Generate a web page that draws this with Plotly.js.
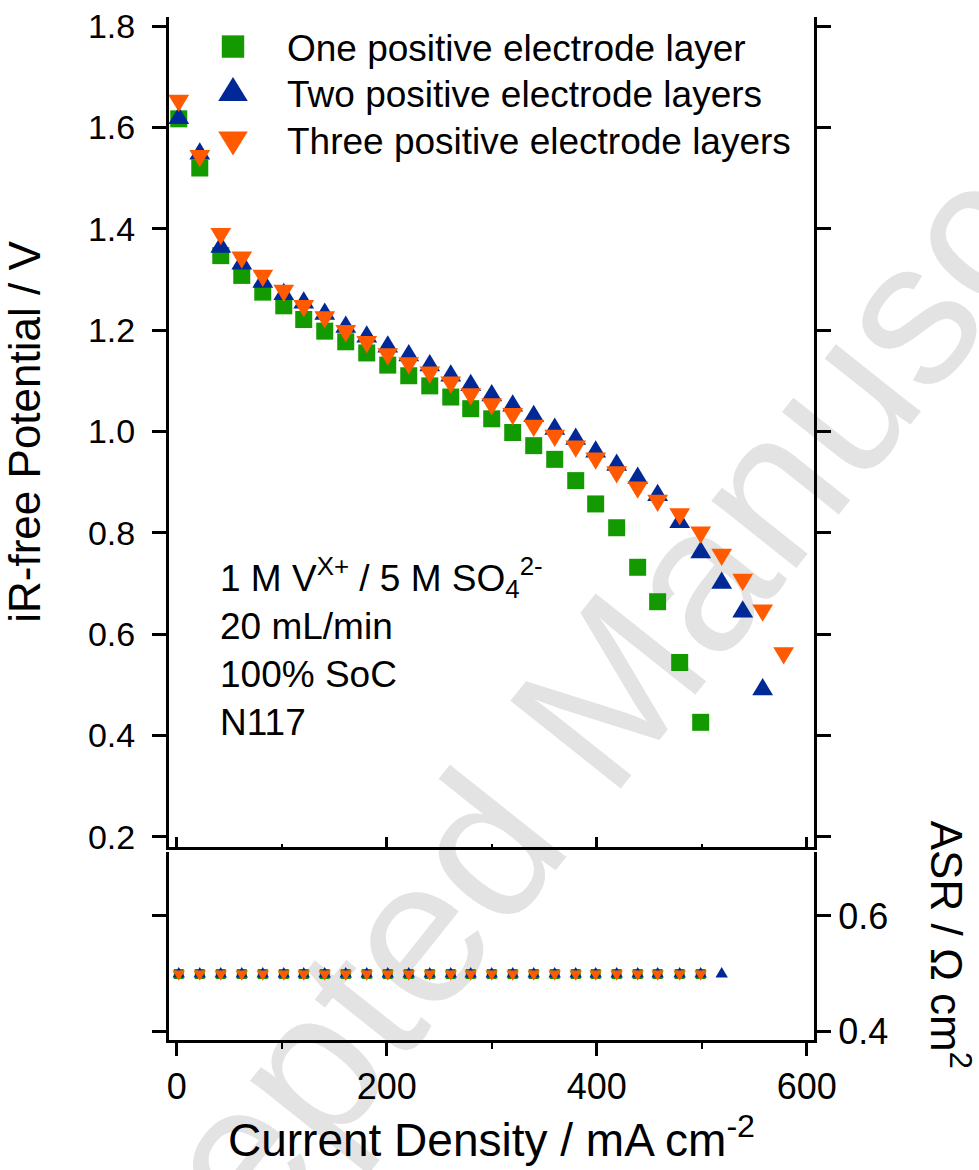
<!DOCTYPE html>
<html>
<head>
<meta charset="utf-8">
<script src="https://cdn.plot.ly/plotly-3.0.1.min.js"></script>
<style>
html,body{margin:0;padding:0;background:#fff;}
#wrap{position:relative;width:979px;height:1170px;overflow:hidden;background:#fff;}
#wm{position:absolute;left:583px;top:722px;font-family:'Liberation Sans',Arial,sans-serif;font-size:205px;color:#e3e3e3;white-space:nowrap;transform:translate(-50%,-50%) rotate(-51.5deg);}
#chart{position:absolute;left:0;top:0;width:979px;height:1170px;}
</style>
</head>
<body>
<div id="wrap">
<div id="wm">Accepted Manuscript</div>
<div id="chart"></div>
</div>
<script>
// ---- data ----
const seriesNames = ['One positive electrode layer', 'Two positive electrode layers', 'Three positive electrode layers'];

const oneLayerCD = [2, 22, 42, 62, 82, 102, 121, 141, 161, 181, 201, 221, 241, 261, 280, 300, 320, 340, 360, 380, 399, 419, 439, 458, 479, 499];
const oneLayerV  = [1.617, 1.520, 1.347, 1.308, 1.275, 1.248, 1.221, 1.198, 1.177, 1.155, 1.131, 1.110, 1.090, 1.068, 1.045, 1.025, 0.998, 0.972, 0.945, 0.903, 0.857, 0.810, 0.732, 0.664, 0.544, 0.426];

const twoLayerCD = [2, 22, 42, 62, 82, 102, 121, 141, 161, 181, 201, 221, 241, 261, 280, 300, 320, 340, 360, 380, 399, 419, 439, 458, 479, 499, 519, 539, 558];
const twoLayerV  = [1.618, 1.548, 1.364, 1.331, 1.295, 1.271, 1.254, 1.232, 1.206, 1.187, 1.167, 1.150, 1.130, 1.110, 1.091, 1.071, 1.051, 1.030, 1.005, 0.985, 0.960, 0.934, 0.908, 0.874, 0.821, 0.761, 0.701, 0.644, 0.491];

const threeLayerCD = [2, 22, 42, 62, 82, 102, 121, 141, 161, 181, 201, 221, 241, 261, 280, 300, 320, 340, 360, 380, 399, 419, 439, 458, 479, 499, 519, 539, 558, 578];
const threeLayerV  = [1.653, 1.544, 1.390, 1.344, 1.308, 1.278, 1.248, 1.226, 1.199, 1.177, 1.153, 1.135, 1.117, 1.097, 1.074, 1.054, 1.035, 1.012, 0.992, 0.971, 0.947, 0.920, 0.890, 0.864, 0.837, 0.801, 0.757, 0.708, 0.647, 0.563];

// ASR (lower panel)
const oneLayerAsrCD = [2, 22, 42, 62, 82, 102, 121, 141, 161, 181, 201, 221, 241, 261, 280, 300, 320, 340, 360, 380, 399, 419, 439, 458, 479, 499];
const oneLayerASR   = [0.50, 0.50, 0.50, 0.50, 0.50, 0.50, 0.50, 0.50, 0.50, 0.50, 0.50, 0.50, 0.50, 0.50, 0.50, 0.50, 0.50, 0.50, 0.50, 0.50, 0.50, 0.50, 0.50, 0.50, 0.50, 0.50];
const twoLayerAsrCD = [2, 22, 42, 62, 82, 102, 121, 141, 161, 181, 201, 221, 241, 261, 280, 300, 320, 340, 360, 380, 399, 419, 439, 458, 479, 499, 519];
const twoLayerASR   = [0.50, 0.50, 0.50, 0.50, 0.50, 0.50, 0.50, 0.50, 0.50, 0.50, 0.50, 0.50, 0.50, 0.50, 0.50, 0.50, 0.50, 0.50, 0.50, 0.50, 0.50, 0.50, 0.50, 0.50, 0.50, 0.50, 0.50];
const threeLayerAsrCD = [2, 22, 42, 62, 82, 102, 121, 141, 161, 181, 201, 221, 241, 261, 280, 300, 320, 340, 360, 380, 399, 419, 439, 458, 479, 499];
const threeLayerASR   = [0.50, 0.50, 0.50, 0.50, 0.50, 0.50, 0.50, 0.50, 0.50, 0.50, 0.50, 0.50, 0.50, 0.50, 0.50, 0.50, 0.50, 0.50, 0.50, 0.50, 0.50, 0.50, 0.50, 0.50, 0.50, 0.50];

const potentialTicks = [0.2, 0.4, 0.6, 0.8, 1.0, 1.2, 1.4, 1.6, 1.8];
const asrTicks = [0.4, 0.6];
const cdTicks = [0, 200, 400, 600];

const conditionsText = '1 M V<sup>X+</sup> / 5 M SO<sub>4</sub><sup>2-</sup><br>20 mL/min<br>100% SoC<br>N117';

// ---- styling ----
const FONT = 'Liberation Sans, Arial, sans-serif';
const GREEN = '#139a00', BLUE = '#002896', ORANGE = '#ff5a00';

const data = [
  {x: oneLayerCD, y: oneLayerV, name: seriesNames[0], type: 'scatter', mode: 'markers',
   marker: {symbol: 'square', size: 17, color: GREEN}, xaxis: 'x', yaxis: 'y'},
  {x: twoLayerCD, y: twoLayerV, name: seriesNames[1], type: 'scatter', mode: 'markers',
   marker: {symbol: 'triangle-up', size: 20, color: BLUE}, xaxis: 'x', yaxis: 'y'},
  {x: threeLayerCD, y: threeLayerV, name: seriesNames[2], type: 'scatter', mode: 'markers',
   marker: {symbol: 'triangle-down', size: 20, color: ORANGE}, xaxis: 'x', yaxis: 'y'},
  {x: oneLayerAsrCD, y: oneLayerASR, name: seriesNames[0], showlegend: false, type: 'scatter', mode: 'markers',
   marker: {symbol: 'square', size: 10, color: GREEN}, xaxis: 'x2', yaxis: 'y2'},
  {x: twoLayerAsrCD, y: twoLayerASR, name: seriesNames[1], showlegend: false, type: 'scatter', mode: 'markers',
   marker: {symbol: 'triangle-up', size: 12, color: BLUE}, xaxis: 'x2', yaxis: 'y2'},
  {x: threeLayerAsrCD, y: threeLayerASR, name: seriesNames[2], showlegend: false, type: 'scatter', mode: 'markers',
   marker: {symbol: 'triangle-down', size: 12, color: ORANGE}, xaxis: 'x2', yaxis: 'y2'}
];

const xRange = [-7.3, 606.9];
const axisCommon = {showline: true, linecolor: '#000', linewidth: 3, showgrid: false, zeroline: false,
  tickcolor: '#000', tickwidth: 3, tickfont: {family: FONT, size: 36, color: '#000'}};

const layout = {
  width: 979, height: 1170,
  margin: {l: 169, r: 165, t: 17, b: 130},
  paper_bgcolor: 'rgba(0,0,0,0)', plot_bgcolor: 'rgba(0,0,0,0)',
  font: {family: FONT, size: 36, color: '#000'},
  showlegend: true,
  legend: {x: 0.0155, y: 1, xanchor: 'left', yanchor: 'top', bgcolor: 'rgba(0,0,0,0)', borderwidth: 0,
    font: {family: FONT, size: 37, color: '#000'}, itemwidth: 98, tracegroupgap: 0},
  xaxis: Object.assign({}, axisCommon, {domain: [0, 1], anchor: 'y', range: xRange, tickvals: cdTicks,
    ticks: 'inside', ticklen: 10, showticklabels: false,
    minor: {dtick: 100, tick0: 0, ticks: 'inside', ticklen: 3, tickwidth: 2, tickcolor: '#000'}}),
  xaxis2: Object.assign({}, axisCommon, {domain: [0, 1], anchor: 'y2', range: xRange, tickvals: cdTicks,
    ticks: 'outside', ticklen: 13,
    minor: {dtick: 100, tick0: 0, ticks: 'outside', ticklen: 6, tickwidth: 2, tickcolor: '#000'},
    title: {text: 'Current Density / mA cm<sup>-2</sup>', font: {family: FONT, size: 46, color: '#000'}, standoff: 18}}),
  yaxis: Object.assign({}, axisCommon, {domain: [0.1887, 1], anchor: 'x', range: [0.180, 1.818],
    tickvals: potentialTicks, tickformat: '.1f', ticks: 'outside', ticklen: 14, mirror: 'ticks',
    ticklabelstandoff: 10, tickfont: {family: FONT, size: 34, color: '#000'},
    title: {text: 'iR-free Potential / V', font: {family: FONT, size: 44, color: '#000'}, standoff: 36}}),
  yaxis2: Object.assign({}, axisCommon, {domain: [0, 0.1841], anchor: 'x2', side: 'right', range: [0.386, 0.711],
    tickvals: asrTicks, tickformat: '.1f', ticks: 'outside', ticklen: 14, mirror: 'ticks'}),
  annotations: [
    {xref: 'paper', yref: 'paper', x: 0.076, y: 0.479, xanchor: 'left', yanchor: 'top', align: 'left',
     showarrow: false, text: conditionsText, font: {family: FONT, size: 37, color: '#000'}},
    {xref: 'paper', yref: 'paper', x: 1.211, y: 0.093, xanchor: 'center', yanchor: 'middle', textangle: 90,
     showarrow: false, text: 'ASR / Ω cm<sup>2</sup>', font: {family: FONT, size: 44, color: '#000'}}
  ]
};

Plotly.newPlot('chart', data, layout, {staticPlot: true, displayModeBar: false}).then(function (gd) {
  // legend: tighter row spacing and larger key symbols, as in the reference
  const items = Array.from(gd.querySelectorAll('.legend g.traces'));
  const pos = items.map(function (g) {
    const m = /translate\(\s*([-\d.e]+)[\s,]+([-\d.e]+)\s*\)/.exec(g.getAttribute('transform') || '');
    return m ? [parseFloat(m[1]), parseFloat(m[2])] : null;
  });
  items.forEach(function (g, i) {
    if (!pos[i] || !pos[0]) return;
    g.setAttribute('transform', 'translate(' + pos[i][0] + ',' + (pos[0][1] - 1 + i * 46.5) + ')');
  });
  gd.querySelectorAll('.legend .legendpoints path.scatterpts').forEach(function (p) {
    const t = p.getAttribute('transform') || '';
    const d = p.getAttribute('d') || '';
    const isTri = d.indexOf('L') >= 0 && d.indexOf('V') < 0;
    p.setAttribute('transform', t + (isTri ? ' scale(1.6,2.0)' : ' scale(1.4)'));
  });
  // more equilateral triangles for the data markers
  gd.querySelectorAll('.scatterlayer .trace').forEach(function (tr, ti) {
    if (ti % 3 === 0) return;
    tr.querySelectorAll('path.point').forEach(function (p) {
      const t = p.getAttribute('transform') || '';
      p.setAttribute('transform', t + ' scale(0.9,1.15)');
    });
  });
});
</script>
</body>
</html>
